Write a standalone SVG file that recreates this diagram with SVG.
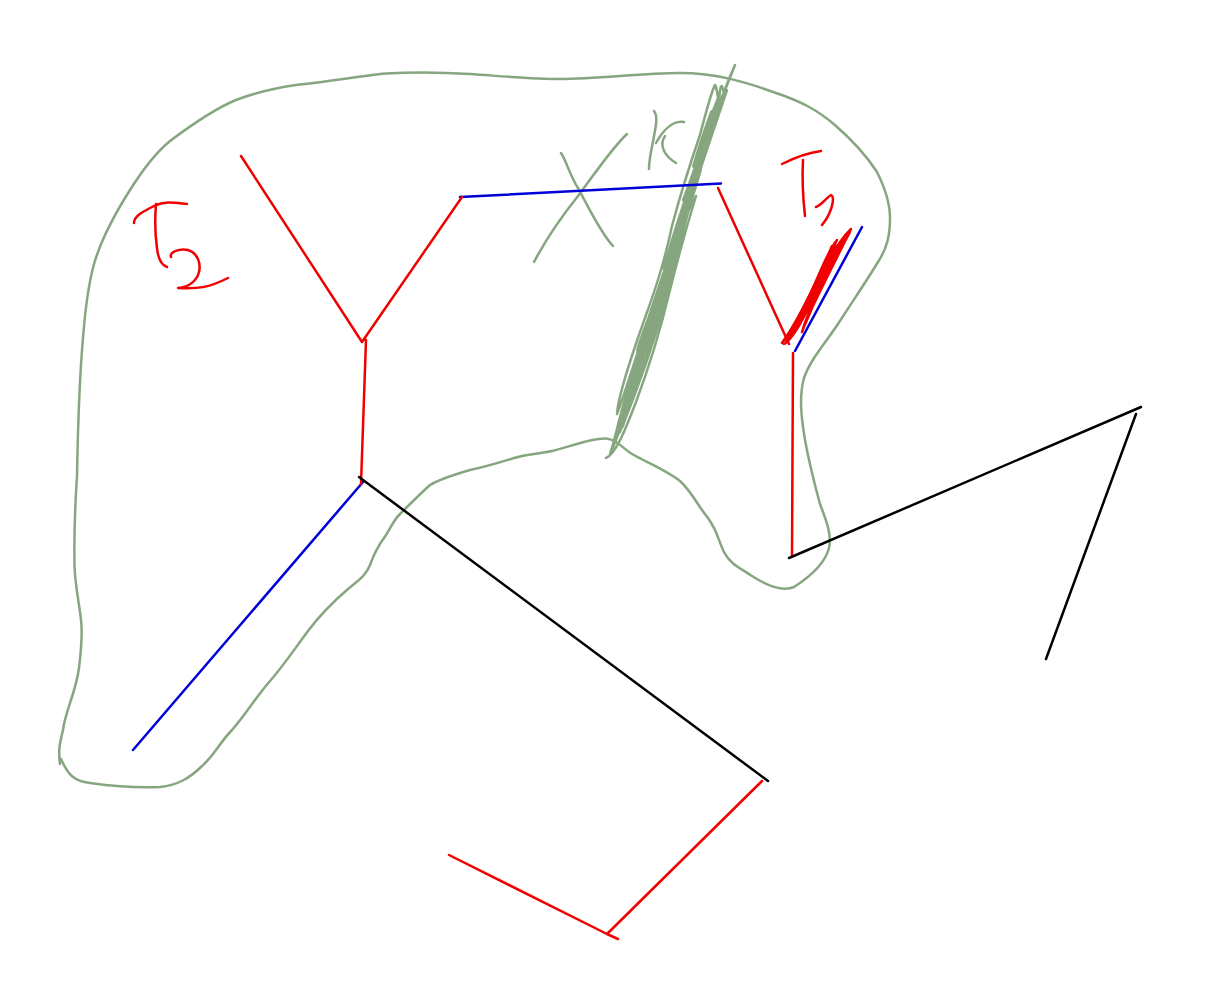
<svg xmlns="http://www.w3.org/2000/svg" width="1228" height="999" viewBox="0 0 1228 999">
<style>
path,polyline,line{fill:none;stroke-width:2.5;stroke-linecap:round;stroke-linejoin:round}
.g{stroke:#86a67f}
.r{stroke:#f00000}
.b{stroke:#0000d8}
.k{stroke:#000}
path.t{stroke-width:4}
</style>
<rect width="1228" height="999" fill="#fff"/>
<g id="connectors">
<path id="region" class="g" d="M60 764C58 750 60 742 63 730C65 712 76 692 79 668C81 650 83 636 81 620C79 602 75 584 74.500 566C74 538 75 506 77 476C78 420 80 372 83 338C85 312 88 286 94 264C101 240 116 212 130 190C142 171 154 154 170 141C190 126 214 109 236 100C254 93 276 88 296 85C326 82 360 76 386 73.500C410 72 440 72 470 74C500 76 530 79 560 79C600 79 640 73 680 73C716 73 746 82 776 93C800 101 818 110 836 126C852 140 866 155 877 172C884 186 890 202 890 218C890 236 887 248 878 262C866 282 852 302 838 324C826 342 810 360 804 378C799 396 801 416 805 440C809 462 814 482 820 504C826 520 832 534 829 548C825 564 808 578 794 587C782 592 766 585 752 576C740 568 730 564 724 552C718 540 718 532 708 518C698 506 692 492 680 481C666 470 646 462 632 454C622 448 618 440 606 438.500C590 438 570 447 552 451C538 454 526 454 514 458C498 463 484 467 470 470C456 474 442 478 430 485C420 494 410 504 400 514C392 522 390 530 384 538C378 546 374 554 370 565C366 576 356 582 348 589C334 601 320 615 308 631C296 647 284 665 270 681C256 697 246 714 232 730C220 742 214 756 202 766C190 778 178 785 160 787C140 788 112 786 90 783C74 781 68 775 61 759"/>
<path id="scribble" class="g" d="M606 458C616 454 626 428 636 402C648 370 660 332 670 290C678 258 688 222 696 196C680 225 664 270 648 320C634 364 624 396 617 414C618 396 630 360 645 318C655 290 664 264 672 226C680 196 690 164 700 135C706 112 712 90 715 85C718 90 717 98 719 100C720 92 720 86 722 86C723 92 725 94 727 90C716 122 706 152 696 182C684 220 672 270 656 326C644 364 628 410 612 450C622 404 638 356 654 306C666 268 680 222 694 180C704 146 716 112 735 65C722 94 712 124 702 156C692 190 682 240 668 292C656 336 640 384 620 432C622 408 636 360 652 314C664 278 676 236 690 190C698 162 708 126 718 104C708 130 698 162 688 198C676 244 662 300 646 348C636 380 624 416 610 454C622 414 634 380 648 340C662 296 672 256 682 222C690 196 700 160 712 120C702 150 690 192 678 236C666 276 652 322 638 362C630 386 624 410 614 440C624 410 640 366 656 320C670 276 684 226 698 176C706 150 714 124 722 100"/>
<path id="scribble2" class="g t" d="M668 256C674 234 684 206 692 180M676 252C682 228 690 204 700 170M684 200L700 156M688 192L696 170M664 268C670 250 676 232 682 212M650 316C658 292 664 276 670 254M656 316C664 290 668 272 674 252M638 350C644 330 650 318 654 304M646 346C650 332 654 320 658 308M628 388C634 370 640 356 644 340M700 150C706 130 712 116 718 100M694 166C700 146 706 128 712 112M628 410C632 396 636 384 640 372M622 426C626 414 628 408 632 398"/>
<path class="g" d="M561 153C566 160 570 176 578 188C588 206 600 232 613 246M627 134C612 148 596 172 578 196C562 216 544 243 534 262"/>
<path class="g" d="M654 111C658 116 656 126 654 136C652 148 649 158 649 169M684 122C672 120 662 132 656 143M665 136C658 146 666 157 676 163"/>
<path id="blue-top" class="b" d="M460 197L721 183.500"/>
<path id="blue-right" class="b" d="M795 351L862 227"/>
<path id="blue-left" class="b" d="M133 750L363 482"/>
<path class="r" d="M241 156L362 342L462 197M366 340L361 484"/>
<path class="r" d="M718 188L789 344M793 353L792 556"/>
<path class="r" d="M762 781L607 934L449 855M607 934L618 939"/>
<path class="k" d="M359 477L768 781"/>
<path class="k" d="M789 558L1141 407M1136 414L1046 659"/>
<path id="T2" class="r" d="M134 223C134 216 142 212 156 205C166 201 176 203 187 204M156 204C155 216 155 234 157 248C158 258 161 265 167 267M171 257C169 252 180 248 188 250C198 253 201 264 199 272C197 280 190 287 178 288C198 289 208 288 228 278"/>
<path id="T1" class="r" d="M782 164C794 158 806 153 821 151M803 160C802 178 803 198 805 216M816 207C822 205 826 198 831 195C835 197 832 208 829 214C827 219 824 222 822 225"/>
<path id="red-scribble" class="r" d="M782 343C794 326 808 300 820 272C826 258 832 246 837 240C826 262 812 296 797 322C792 332 786 340 785 340C800 318 820 280 835 250C841 240 848 232 851 229C842 248 826 278 812 308C808 318 804 326 802 332C808 310 824 280 836 258C842 246 848 236 850 232C838 254 818 292 800 324C794 334 788 342 784 344M786 342C804 310 818 278 832 246M790 336C806 308 820 278 836 246M792 334C808 306 822 280 840 244M788 338C802 314 814 290 828 260M794 330C808 306 818 286 832 260M798 326C812 300 824 274 844 238"/>
<path class="r t" d="M792 330C804 310 816 284 830 256M800 318C810 300 822 276 838 246"/>
</g>
</svg>
